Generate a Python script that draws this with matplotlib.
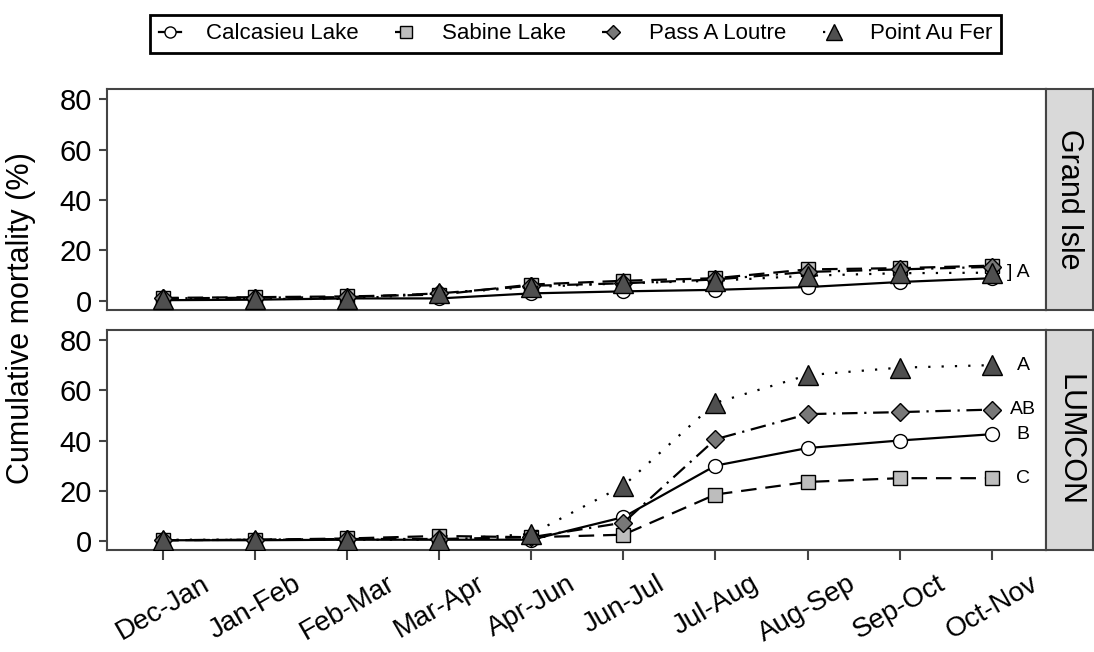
import matplotlib.pyplot as plt
import numpy as np

periods = ['Dec-Jan', 'Jan-Feb', 'Feb-Mar', 'Mar-Apr', 'Apr-Jun',
           'Jun-Jul', 'Jul-Aug', 'Aug-Sep', 'Sep-Oct', 'Oct-Nov']
sites = ['Calcasieu Lake', 'Sabine Lake', 'Pass A Loutre', 'Point Au Fer']

# Grand Isle, cumulative mortality (%)
gi_calcasieu = [0.3, 0.5, 1.0, 1.0, 3.0, 3.8, 4.4, 5.5, 7.5, 9.0]
gi_sabine = [1.2, 1.5, 1.8, 2.5, 6.5, 8.0, 9.0, 12.5, 13.0, 14.0]
gi_loutre = [1.0, 1.3, 1.5, 3.0, 6.0, 7.0, 8.5, 11.5, 12.5, 13.5]
gi_aufer = [0.8, 0.8, 0.8, 3.0, 5.5, 7.0, 8.0, 10.0, 11.0, 11.2]

# LUMCON, cumulative mortality (%)
lu_calcasieu = [0.3, 0.3, 0.5, 0.5, 0.5, 9.5, 30.0, 37.0, 40.0, 42.5]
lu_sabine = [0.3, 0.5, 1.0, 2.0, 1.5, 2.5, 18.5, 23.5, 25.0, 25.0]
lu_loutre = [0.3, 0.5, 0.8, 0.8, 1.5, 7.3, 40.5, 50.5, 51.3, 52.3]
lu_aufer = [0.5, 0.5, 0.5, 0.5, 2.8, 22.0, 55.0, 66.0, 69.0, 70.0]

gi_letter = 'A'
lu_letters = ['B', 'C', 'AB', 'A']

plt.rcParams['font.family'] = ['Liberation Sans', 'DejaVu Sans']

markers = ['o', 's', 'D', '^']
msizes = [10, 10, 9, 14]
fills = ['white', '#bdbdbd', '#787878', '#4f4f4f']
styles = ['-', (0, (7, 4)), (0, (7, 3, 1, 3)), (0, (1, 5))]
frame = '#444444'

fig = plt.figure(figsize=(10.94, 6.52), dpi=100)
ax1 = fig.add_axes([0.0978, 0.5245, 0.8583, 0.339])
ax2 = fig.add_axes([0.0978, 0.1564, 0.8583, 0.3375])
x = np.arange(len(periods))

panels = [(ax1, [gi_calcasieu, gi_sabine, gi_loutre, gi_aufer], 'Grand Isle'),
          (ax2, [lu_calcasieu, lu_sabine, lu_loutre, lu_aufer], 'LUMCON')]

for ax, series, name in panels:
    for i, y in enumerate(series):
        ax.plot(x, y, linestyle=styles[i], color='black', linewidth=1.6,
                marker=markers[i], markersize=msizes[i], markerfacecolor=fills[i],
                markeredgecolor='black', markeredgewidth=1, label=sites[i], zorder=2 + i)
    ax.set_xlim(-0.61, 9.59)
    ax.set_ylim(-3.6, 84)
    ax.set_yticks([0, 20, 40, 60, 80])
    ax.tick_params(axis='y', labelsize=21, length=6, width=1.5, color=frame, pad=5)
    for s in ax.spines.values():
        s.set_color(frame)
        s.set_linewidth(1.5)

    # strip label on the right
    pos = ax.get_position()
    strip = fig.add_axes([pos.x1, pos.y0, 0.999 - pos.x1, pos.height])
    strip.set_facecolor('#d9d9d9')
    strip.set_xticks([])
    strip.set_yticks([])
    for s in strip.spines.values():
        s.set_color(frame)
        s.set_linewidth(1.5)
    strip.text(0.5, 0.5, name, rotation=-90, ha='center', va='center', fontsize=22,
               transform=strip.transAxes)

ax1.set_xticks([])
ax1.text(9.17, gi_aufer[-1], '] ' + gi_letter, fontsize=14, va='center', ha='left')

ax2.set_xticks(x)
ax2.set_xticklabels(periods, rotation=30, ha='center', va='top', fontsize=20)
ax2.tick_params(axis='x', length=7, width=1.5, color=frame, pad=8)
for i, y in enumerate([lu_calcasieu, lu_sabine, lu_loutre, lu_aufer]):
    ax2.text(9.34, y[-1], lu_letters[i], fontsize=14, va='center', ha='center')

fig.text(0.019, 0.512, 'Cumulative mortality (%)', rotation=90, ha='center', va='center', fontsize=22)

h, l = ax1.get_legend_handles_labels()
leg = fig.legend(h, l, loc='center', bbox_to_anchor=(0.526, 0.948), ncol=4, fontsize=16,
                 frameon=True, fancybox=False, edgecolor='black', framealpha=1,
                 handlelength=1.0, handletextpad=1.1, columnspacing=1.65, markerscale=0.8,
                 borderpad=0.4, borderaxespad=0.3)
leg.get_frame().set_linewidth(2)

plt.savefig('out.png', dpi=100)
